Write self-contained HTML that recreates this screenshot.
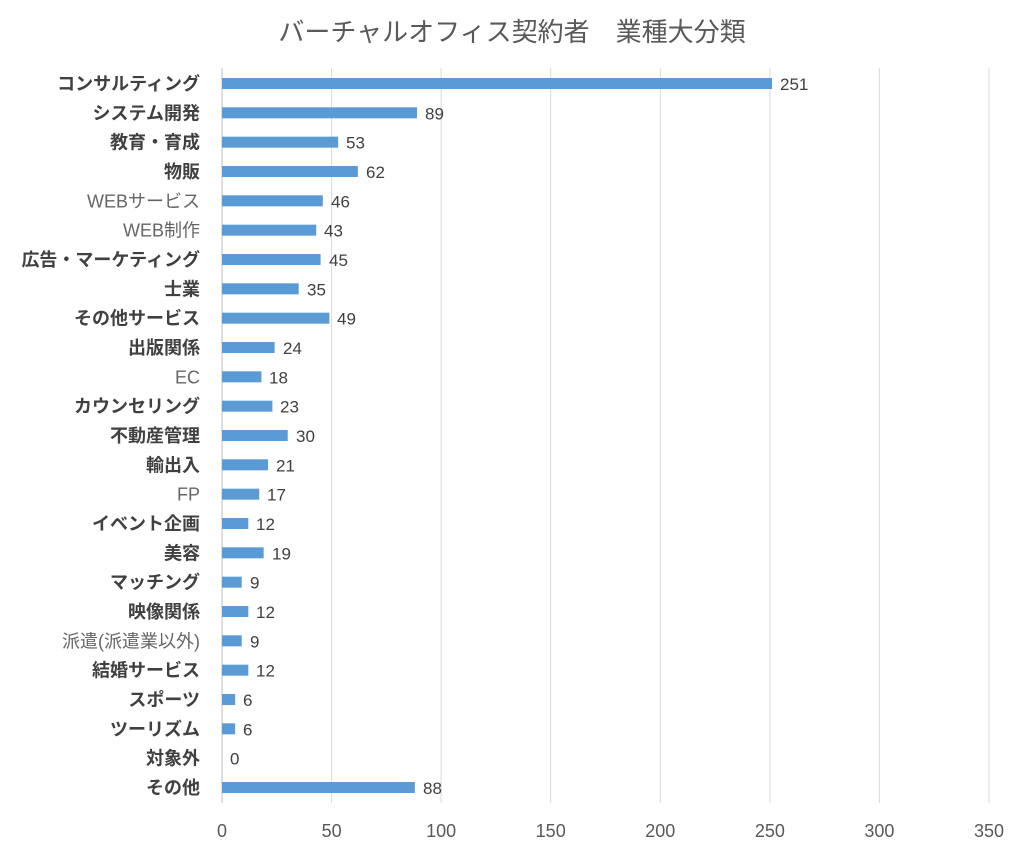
<!DOCTYPE html>
<html><head><meta charset="utf-8"><style>
body{margin:0;background:#fff}
svg text{font-family:"Liberation Sans","Noto Sans CJK JP",sans-serif}
.v{font-size:17px;fill:#404040}
.c{font-size:18px;fill:#404040;font-weight:bold;text-anchor:end}
.n{font-size:18px;fill:#666;text-anchor:end}
</style></head><body>
<svg width="1024" height="853" xmlns="http://www.w3.org/2000/svg">
<rect width="1024" height="853" fill="#fff"/>
<text x="512" y="41" text-anchor="middle" font-size="26" fill="#595959">バーチャルオフィス契約者　業種大分類</text>
<g stroke="#d9d9d9" stroke-width="1">
<line x1="331.6" y1="68" x2="331.6" y2="803"/>
<line x1="441.1" y1="68" x2="441.1" y2="803"/>
<line x1="550.7" y1="68" x2="550.7" y2="803"/>
<line x1="660.3" y1="68" x2="660.3" y2="803"/>
<line x1="769.9" y1="68" x2="769.9" y2="803"/>
<line x1="879.4" y1="68" x2="879.4" y2="803"/>
<line x1="989" y1="68" x2="989" y2="803"/>
</g>
<line x1="222" y1="68" x2="222" y2="803" stroke="#bfbfbf"/>
<g font-size="18" fill="#595959" text-anchor="middle">
<text x="222" y="837">0</text><text x="331.6" y="837">50</text><text x="441.1" y="837">100</text><text x="550.7" y="837">150</text><text x="660.3" y="837">200</text><text x="769.9" y="837">250</text><text x="879.4" y="837">300</text><text x="989" y="837">350</text>
</g>
<g fill="#5b9bd5">
<rect x="222" y="78" width="550.05" height="11"/>
<rect x="222" y="107.33" width="195.04" height="11"/>
<rect x="222" y="136.66" width="116.15" height="11"/>
<rect x="222" y="166" width="135.87" height="11"/>
<rect x="222" y="195.33" width="100.81" height="11"/>
<rect x="222" y="224.66" width="94.23" height="11"/>
<rect x="222" y="254" width="98.61" height="11"/>
<rect x="222" y="283.33" width="76.70" height="11"/>
<rect x="222" y="312.66" width="107.38" height="11"/>
<rect x="222" y="342" width="52.59" height="11"/>
<rect x="222" y="371.33" width="39.45" height="11"/>
<rect x="222" y="400.66" width="50.40" height="11"/>
<rect x="222" y="430" width="65.74" height="11"/>
<rect x="222" y="459.33" width="46.02" height="11"/>
<rect x="222" y="488.66" width="37.25" height="11"/>
<rect x="222" y="518" width="26.30" height="11"/>
<rect x="222" y="547.33" width="41.64" height="11"/>
<rect x="222" y="576.66" width="19.72" height="11"/>
<rect x="222" y="606" width="26.30" height="11"/>
<rect x="222" y="635.33" width="19.72" height="11"/>
<rect x="222" y="664.66" width="26.30" height="11"/>
<rect x="222" y="694" width="13.15" height="11"/>
<rect x="222" y="723.33" width="13.15" height="11"/>
<rect x="222" y="782" width="192.85" height="11"/>
</g>
<g>
<text class="v" x="780" y="90">251</text>
<text class="v" x="425" y="119.33">89</text>
<text class="v" x="346" y="148.66">53</text>
<text class="v" x="366" y="178">62</text>
<text class="v" x="331" y="207.33">46</text>
<text class="v" x="324" y="236.66">43</text>
<text class="v" x="329" y="266">45</text>
<text class="v" x="307" y="295.33">35</text>
<text class="v" x="337" y="324.66">49</text>
<text class="v" x="283" y="354">24</text>
<text class="v" x="269" y="383.33">18</text>
<text class="v" x="280" y="412.66">23</text>
<text class="v" x="296" y="442">30</text>
<text class="v" x="276" y="471.33">21</text>
<text class="v" x="267" y="500.66">17</text>
<text class="v" x="256" y="530">12</text>
<text class="v" x="272" y="559.33">19</text>
<text class="v" x="250" y="588.66">9</text>
<text class="v" x="256" y="618">12</text>
<text class="v" x="250" y="647.33">9</text>
<text class="v" x="256" y="676.66">12</text>
<text class="v" x="243" y="706">6</text>
<text class="v" x="243" y="735.33">6</text>
<text class="v" x="230" y="764.66">0</text>
<text class="v" x="423" y="794">88</text>
</g>
<text class="c" x="200" y="90">コンサルティング</text>
<text class="c" x="200" y="119.33">システム開発</text>
<text class="c" x="200" y="148.66">教育・育成</text>
<text class="c" x="200" y="178">物販</text>
<text class="n" x="200" y="207.33">WEBサービス</text>
<text class="n" x="200" y="236.66">WEB制作</text>
<text class="c" x="200" y="266">広告・マーケティング</text>
<text class="c" x="200" y="295.33">士業</text>
<text class="c" x="200" y="324.66">その他サービス</text>
<text class="c" x="200" y="354">出版関係</text>
<text class="n" x="200" y="383.33">EC</text>
<text class="c" x="200" y="412.66">カウンセリング</text>
<text class="c" x="200" y="442">不動産管理</text>
<text class="c" x="200" y="471.33">輸出入</text>
<text class="n" x="200" y="500.66">FP</text>
<text class="c" x="200" y="530">イベント企画</text>
<text class="c" x="200" y="559.33">美容</text>
<text class="c" x="200" y="588.66">マッチング</text>
<text class="c" x="200" y="618">映像関係</text>
<text class="n" x="200" y="647.33">派遣(派遣業以外)</text>
<text class="c" x="200" y="676.66">結婚サービス</text>
<text class="c" x="200" y="706">スポーツ</text>
<text class="c" x="200" y="735.33">ツーリズム</text>
<text class="c" x="200" y="764.66">対象外</text>
<text class="c" x="200" y="794">その他</text>
</svg>
</body></html>
